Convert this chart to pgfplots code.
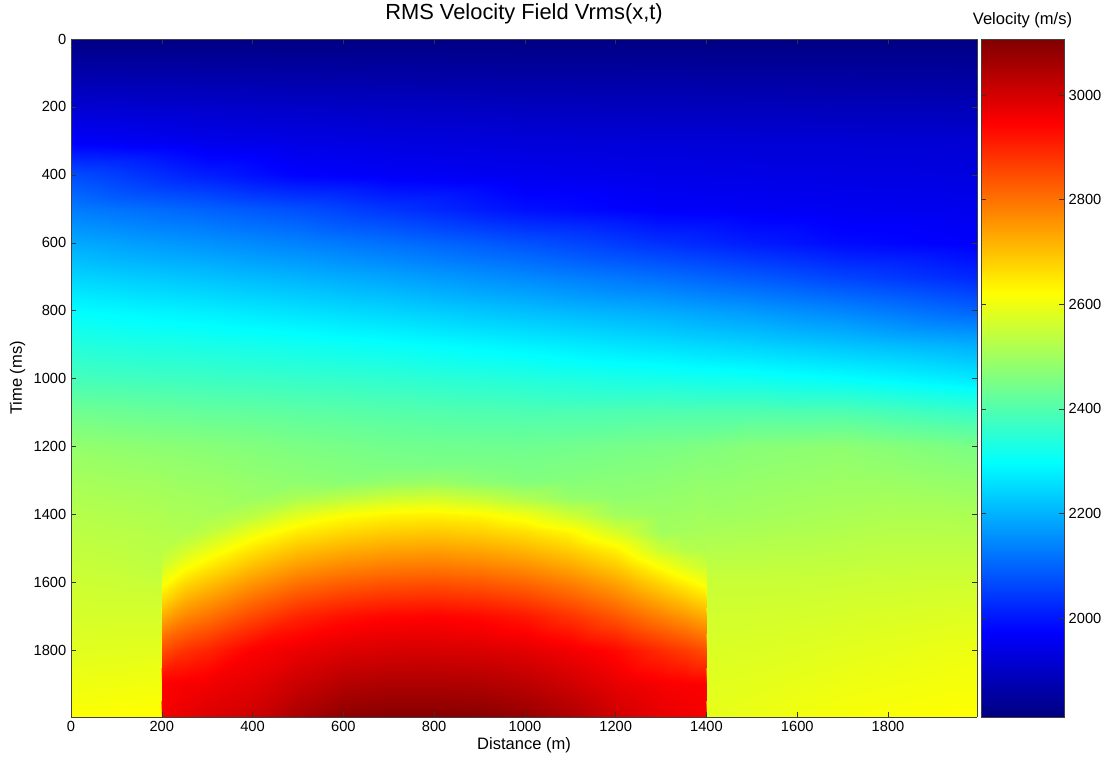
\documentclass[border=0pt]{standalone}
\usepackage{pgfplots}
\pgfplotsset{compat=1.18}
\usepackage{fontspec}
\setmainfont{Liberation Sans}
\begin{document}
\begin{tikzpicture}
\begin{axis}[
  name=ax,
  view={0}{90},
  scale only axis, width=679.5pt, height=508.5pt,
  xmin=0, xmax=1996, ymin=0, ymax=1996,
  y dir=reverse,
  xtick={0,200,...,1800}, ytick={0,200,...,1800}, ztick=\empty,
  tick align=inside, major tick length=4pt,
  xtick pos=both, ytick pos=both,
  axis on top,
  axis line style={black!75},
  every tick/.style={black!80},
  colormap={mjet}{rgb255(0pt)=(0,0,128); rgb255(1pt)=(0,0,255); rgb255(3pt)=(0,255,255); rgb255(5pt)=(255,255,0); rgb255(7pt)=(255,0,0); rgb255(8pt)=(128,0,0)},
  point meta min=1811, point meta max=3107,
  /pgf/number format/assume math mode=true,
  /pgf/number format/1000 sep={},
  tick label style={font=\fontsize{11}{13}\selectfont},
  every axis x label/.style={at={(axis description cs:0.5,-0.0413)}, anchor=center},
  every axis y label/.style={at={(axis description cs:-0.059,0.5)}, rotate=90, anchor=center},
  every axis title/.style={at={(axis description cs:0.5,1.037)}, anchor=center},
  label style={font=\fontsize{12.4}{14}\selectfont},
  title style={font=\fontsize{16.4}{18}\selectfont},
  xlabel={Distance (m)}, ylabel={Time (ms)},
  title={RMS Velocity Field Vrms(x,t)},
  colorbar,
  colorbar/width=62.25pt,
  colorbar shift/.style={xshift=3pt},
  colorbar style={
    at={(parent axis.north east)}, anchor=north west,
    ytick={2000,2200,2400,2600,2800,3000},
    tick align=inside, major tick length=4pt, ytick pos=both, yticklabel pos=right,
    yticklabel style={font=\fontsize{11}{13}\selectfont, /pgf/number format/1000 sep={}, /pgf/number format/assume math mode=true},
    title={Velocity (m/s)},
    every axis title/.style={at={(0.5,1)}, anchor=center, yshift=14.25pt, font=\fontsize{12.4}{14}\selectfont},
    axis line style={black!75},
  },
]
\addplot3[surf, shader=interp, mesh/cols=9, point meta=z] coordinates {
(0,0,1815)(300,0,1815)(500,0,1815)(700,0,1815)(1000,0,1815)(1300,0,1815)(1500,0,1815)(1700,0,1815)(1996,0,1815)
(0,100,1865)(300,100,1861)(500,100,1858)(700,100,1856)(1000,100,1853)(1300,100,1852)(1500,100,1851)(1700,100,1850)(1996,100,1848)
(0,200,1915)(300,200,1907)(500,200,1902)(700,200,1898)(1000,200,1892)(1300,200,1889)(1500,200,1887)(1700,200,1885)(1996,200,1883)
(0,300,1965)(300,300,1947)(500,300,1939)(700,300,1933)(1000,300,1926)(1300,300,1922)(1500,300,1920)(1700,300,1919)(1996,300,1917)
(0,400,2070)(300,400,2010)(500,400,1975)(700,400,1964)(1000,400,1952)(1300,400,1945)(1500,400,1941)(1700,400,1938)(1996,400,1934)
(0,500,2130)(300,500,2097)(500,500,2073)(700,500,2039)(1000,500,1991)(1300,500,1967)(1500,500,1962)(1700,500,1957)(1996,500,1951)
(0,600,2189)(300,600,2159)(500,600,2138)(700,600,2115)(1000,600,2077)(1300,600,2034)(1500,600,2008)(1700,600,1985)(1996,600,1968)
(0,700,2243)(300,700,2219)(500,700,2201)(700,700,2181)(1000,700,2147)(1300,700,2113)(1500,700,2086)(1700,700,2058)(1996,700,2021)
(0,800,2297)(300,800,2276)(500,800,2260)(700,800,2243)(1000,800,2215)(1300,800,2190)(1500,800,2168)(1700,800,2143)(1996,800,2100)
(0,900,2341)(300,900,2327)(500,900,2316)(700,900,2304)(1000,900,2281)(1300,900,2256)(1500,900,2240)(1700,900,2222)(1996,900,2196)
(0,1000,2385)(300,1000,2374)(500,1000,2366)(700,1000,2357)(1000,1000,2341)(1300,1000,2325)(1500,1000,2315)(1700,1000,2300)(1996,1000,2270)
(0,1100,2440)(300,1100,2425)(500,1100,2416)(700,1100,2407)(1000,1100,2396)(1300,1100,2400)(1500,1100,2402)(1700,1100,2400)(1996,1100,2370)
(0,1200,2485)(300,1200,2470)(500,1200,2455)(700,1200,2443)(1000,1200,2438)(1300,1200,2452)(1500,1200,2470)(1700,1200,2478)(1996,1200,2452)
};
\addplot3[surf, shader=interp, mesh/cols=25, point meta=z] coordinates {
(0,1200,2485)(100,1200,2480)(199,1200,2475)(201,1200,2475)(250,1200,2472.5)(300,1200,2470)(400,1200,2462.5)(500,1200,2455)(600,1200,2449)(700,1200,2443)(800,1200,2441.3)(900,1200,2439.7)(1000,1200,2438)(1100,1200,2442.7)(1200,1200,2447.3)(1300,1200,2452)(1350,1200,2456.5)(1399,1200,2461)(1401,1200,2461)(1500,1200,2470)(1600,1200,2474)(1700,1200,2478)(1800,1200,2469.2)(1900,1200,2460.4)(1996,1200,2452)
(0,1250,2497)(100,1250,2493)(199,1250,2488)(201,1250,2487)(250,1250,2484)(300,1250,2482)(400,1250,2474)(500,1250,2467)(600,1250,2461)(700,1250,2455)(800,1250,2453)(900,1250,2452)(1000,1250,2450)(1100,1250,2455)(1200,1250,2459)(1300,1250,2464)(1350,1250,2468)(1399,1250,2473)(1401,1250,2470)(1500,1250,2478)(1600,1250,2483)(1700,1250,2487)(1800,1250,2481)(1900,1250,2475)(1996,1250,2468)
(0,1300,2508)(100,1300,2504)(199,1300,2500)(201,1300,2498)(250,1300,2495)(300,1300,2493)(400,1300,2485)(500,1300,2478)(600,1300,2472)(700,1300,2482)(800,1300,2487)(900,1300,2473)(1000,1300,2461)(1100,1300,2466)(1200,1300,2470)(1300,1300,2475)(1350,1300,2479)(1399,1300,2484)(1401,1300,2480)(1500,1300,2487)(1600,1300,2491)(1700,1300,2496)(1800,1300,2494)(1900,1300,2489)(1996,1300,2484)
(0,1350,2518)(100,1350,2514)(199,1350,2510)(201,1350,2508)(250,1350,2505)(300,1350,2503)(400,1350,2495)(500,1350,2515)(600,1350,2535)(700,1350,2557)(800,1350,2565)(900,1350,2546)(1000,1350,2518)(1100,1350,2488)(1200,1350,2480)(1300,1350,2485)(1350,1350,2489)(1399,1350,2494)(1401,1350,2489)(1500,1350,2495)(1600,1350,2500)(1700,1350,2504)(1800,1350,2506)(1900,1350,2504)(1996,1350,2499)
(0,1400,2527)(100,1400,2523)(199,1400,2519)(201,1400,2517)(250,1400,2514)(300,1400,2512)(400,1400,2535)(500,1400,2584)(600,1400,2618)(700,1400,2634)(800,1400,2639)(900,1400,2629)(1000,1400,2602)(1100,1400,2556)(1200,1400,2505)(1300,1400,2494)(1350,1400,2498)(1399,1400,2503)(1401,1400,2498)(1500,1400,2503)(1600,1400,2508)(1700,1400,2513)(1800,1400,2518)(1900,1400,2518)(1996,1400,2515)
(0,1450,2535)(100,1450,2531)(199,1450,2527)(201,1450,2525)(250,1450,2522)(300,1450,2539)(400,1450,2599)(500,1450,2646)(600,1450,2670)(700,1450,2685)(800,1450,2690)(900,1450,2680)(1000,1450,2661)(1100,1450,2631)(1200,1450,2569)(1300,1450,2502)(1350,1450,2506)(1399,1450,2511)(1401,1450,2512)(1500,1450,2515)(1600,1450,2519)(1700,1450,2523)(1800,1450,2528)(1900,1450,2528)(1996,1450,2526)
(0,1500,2543)(100,1500,2539)(199,1500,2532)(201,1500,2533)(250,1500,2559)(300,1500,2592)(400,1500,2654)(500,1500,2697)(600,1500,2721)(700,1500,2735)(800,1500,2740)(900,1500,2730)(1000,1500,2711)(1100,1500,2681)(1200,1500,2636)(1300,1500,2550)(1350,1500,2527)(1399,1500,2519)(1401,1500,2525)(1500,1500,2528)(1600,1500,2530)(1700,1500,2534)(1800,1500,2538)(1900,1500,2539)(1996,1500,2538)
(0,1550,2550)(100,1550,2546)(199,1550,2538)(201,1550,2563)(250,1550,2611)(300,1550,2645)(400,1550,2704)(500,1550,2748)(600,1550,2772)(700,1550,2786)(800,1550,2791)(900,1550,2781)(1000,1550,2762)(1100,1550,2731)(1200,1550,2686)(1300,1550,2615)(1350,1550,2579)(1399,1550,2553)(1401,1550,2539)(1500,1550,2540)(1600,1550,2542)(1700,1550,2544)(1800,1550,2547)(1900,1550,2549)(1996,1550,2549)
(0,1600,2557)(100,1600,2554)(199,1600,2550)(201,1600,2608)(250,1600,2664)(300,1600,2696)(400,1600,2754)(500,1600,2798)(600,1600,2823)(700,1600,2837)(800,1600,2841)(900,1600,2832)(1000,1600,2813)(1100,1600,2781)(1200,1600,2736)(1300,1600,2670)(1350,1600,2638)(1399,1600,2605)(1401,1600,2552)(1500,1600,2552)(1600,1600,2553)(1700,1600,2555)(1800,1600,2557)(1900,1600,2559)(1996,1600,2560)
(0,1650,2563)(100,1650,2561)(199,1650,2560)(201,1650,2664)(250,1650,2718)(300,1650,2747)(400,1650,2805)(500,1650,2849)(600,1650,2874)(700,1650,2887)(800,1650,2891)(900,1650,2882)(1000,1650,2864)(1100,1650,2830)(1200,1650,2785)(1300,1650,2725)(1350,1650,2696)(1399,1650,2664)(1401,1650,2558)(1500,1650,2558)(1600,1650,2560)(1700,1650,2563)(1800,1650,2565)(1900,1650,2568)(1996,1650,2570)
(0,1700,2569)(100,1700,2568)(199,1700,2568)(201,1700,2725)(250,1700,2772)(300,1700,2798)(400,1700,2855)(500,1700,2899)(600,1700,2925)(700,1700,2938)(800,1700,2942)(900,1700,2933)(1000,1700,2915)(1100,1700,2880)(1200,1700,2835)(1300,1700,2780)(1350,1700,2754)(1399,1700,2725)(1401,1700,2564)(1500,1700,2565)(1600,1700,2567)(1700,1700,2570)(1800,1700,2574)(1900,1700,2577)(1996,1700,2580)
(0,1800,2582)(100,1800,2584)(199,1800,2586)(201,1800,2847)(250,1800,2880)(300,1800,2899)(400,1800,2948)(500,1800,2969)(600,1800,2987)(700,1800,2995)(800,1800,2996)(900,1800,2992)(1000,1800,2981)(1100,1800,2961)(1200,1800,2935)(1300,1800,2890)(1350,1800,2870)(1399,1800,2847)(1401,1800,2575)(1500,1800,2577)(1600,1800,2580)(1700,1800,2585)(1800,1800,2590)(1900,1800,2595)(1996,1800,2600)
(0,1900,2600)(100,1900,2603)(199,1900,2606)(201,1900,2948)(250,1900,2954)(300,1900,2961)(400,1900,2980)(500,1900,3013)(600,1900,3040)(700,1900,3049)(800,1900,3049)(900,1900,3046)(1000,1900,3031)(1100,1900,3006)(1200,1900,2974)(1300,1900,2955)(1350,1900,2950)(1399,1900,2947)(1401,1900,2583)(1500,1900,2587)(1600,1900,2593)(1700,1900,2599)(1800,1900,2603)(1900,1900,2607)(1996,1900,2611)
(0,1996,2618)(100,1996,2621)(199,1996,2624)(201,1996,2960)(250,1996,2975)(300,1996,2990)(400,1996,3010)(500,1996,3055)(600,1996,3090)(700,1996,3100)(800,1996,3100)(900,1996,3098)(1000,1996,3080)(1100,1996,3050)(1200,1996,3005)(1300,1996,2975)(1350,1996,2965)(1399,1996,2955)(1401,1996,2590)(1500,1996,2597)(1600,1996,2605)(1700,1996,2612)(1800,1996,2616)(1900,1996,2619)(1996,1996,2621)
};
\end{axis}
\pgfresetboundingbox
\path[use as bounding box] (-53.25pt,-31.5pt) rectangle (776.25pt,537.75pt);
\end{tikzpicture}
\end{document}
